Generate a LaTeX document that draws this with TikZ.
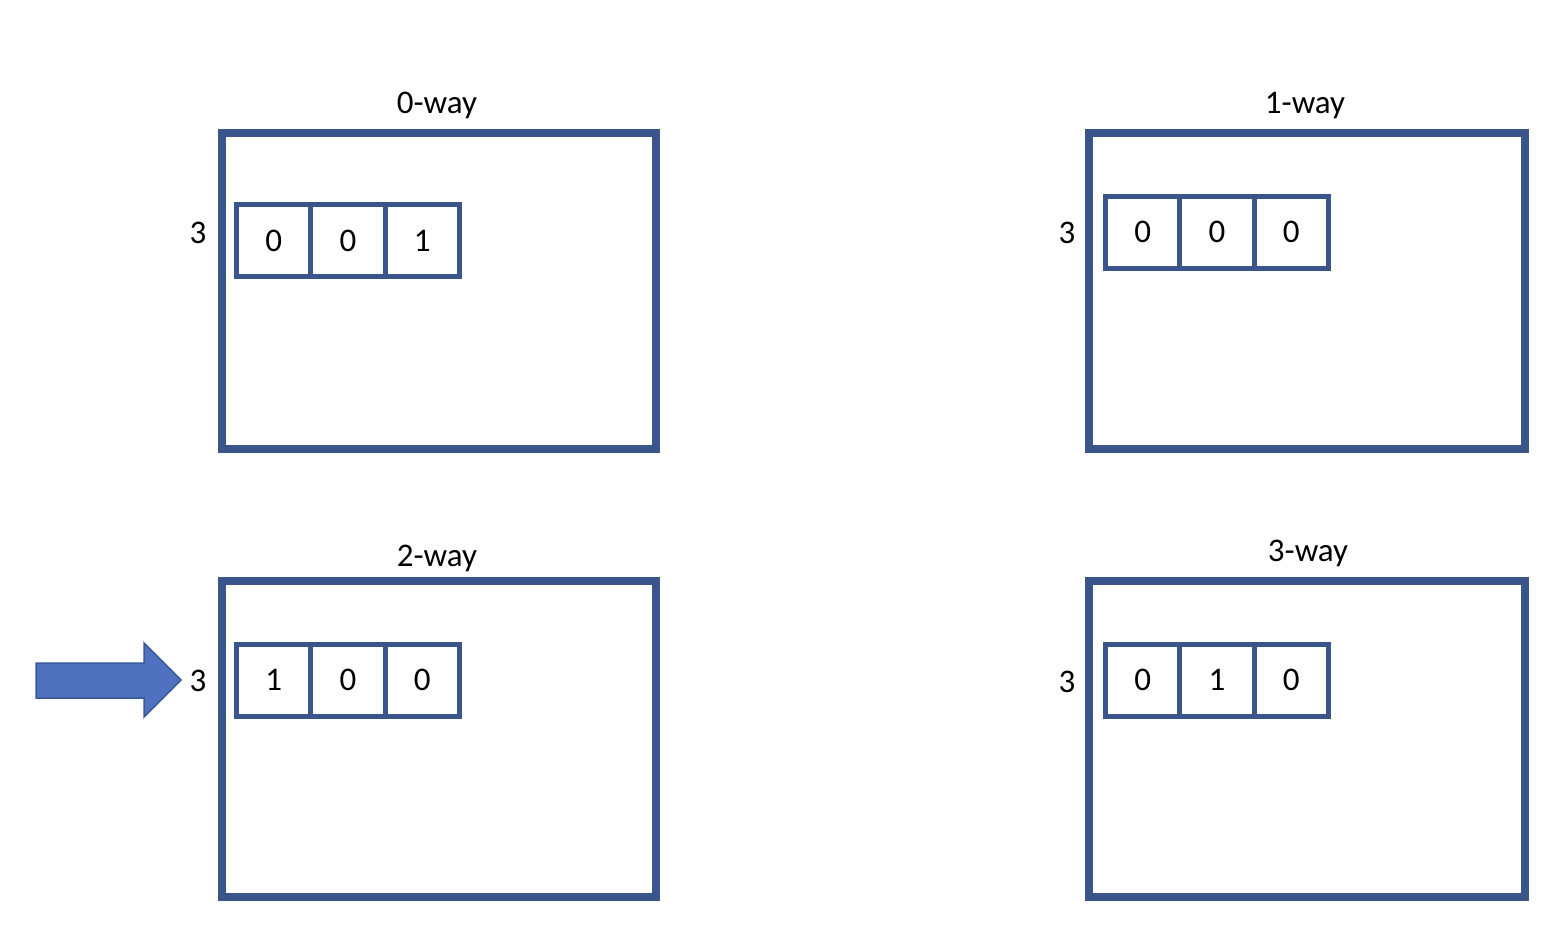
\documentclass[tikz,border=0pt]{standalone}
\usepackage{fontspec}
\setmainfont{Carlito}
\definecolor{boxblue}{HTML}{3A5589}
\definecolor{arrowfill}{HTML}{4F71BE}
\definecolor{arrowline}{HTML}{3A5A9E}
\begin{document}
\begin{tikzpicture}[x=1pt,y=-1pt,
  bigbox/.style={draw=boxblue,line width=8pt,minimum width=434pt,minimum height=316pt,inner sep=0pt,outer sep=0pt},
  cell/.style={draw=boxblue,line width=5pt,minimum width=74.3pt,minimum height=72pt,inner sep=0pt,outer sep=0pt,
    font=\fontsize{33}{39}\selectfont},
  lbl/.style={inner sep=0pt,font=\fontsize{33}{39}\selectfont}]
\useasboundingbox (0,0) rectangle (1560,926);
% big boxes
\node[bigbox] (b0) at (438.5,290.5) {};
\node[bigbox,minimum width=436pt] (b1) at (1306.5,290.5) {};
\node[bigbox] (b2) at (438.5,739) {};
\node[bigbox,minimum width=436pt] (b3) at (1306.5,739) {};
% titles
\node[lbl] (t0) at (437,105) {0-way};
\node[lbl] (t1) at (1305,106) {1-way};
\node[lbl] (t2) at (437,558) {2-way};
\node[lbl] (t3) at (1308,553) {3-way};
% row labels
\node[lbl] (r0) at (198,233) {3};
\node[lbl] (r1) at (1067,233) {3};
\node[lbl] (r2) at (198,681) {3};
\node[lbl] (r3) at (1067,682) {3};
% cells 0-way
\node[cell] (c00) at (273.65,240.5) {0};
\node[cell] (c01) at (347.95,240.5) {0};
\node[cell] (c02) at (422.25,240.5) {1};
% cells 1-way
\node[cell] (c10) at (1142.65,232) {0};
\node[cell] (c11) at (1216.95,232) {0};
\node[cell] (c12) at (1291.25,232) {0};
% cells 2-way
\node[cell] (c20) at (273.65,680) {1};
\node[cell] (c21) at (347.95,680) {0};
\node[cell] (c22) at (422.25,680) {0};
% cells 3-way
\node[cell] (c30) at (1142.65,680) {0};
\node[cell] (c31) at (1216.95,680) {1};
\node[cell] (c32) at (1291.25,680) {0};
% arrow
\draw[fill=arrowfill,draw=arrowline,line width=1.5pt,line join=miter]
  (36,663) -- (144,663) -- (144,643) -- (181,680) -- (144,717) -- (144,698) -- (36,698) -- cycle;
\end{tikzpicture}
\end{document}
